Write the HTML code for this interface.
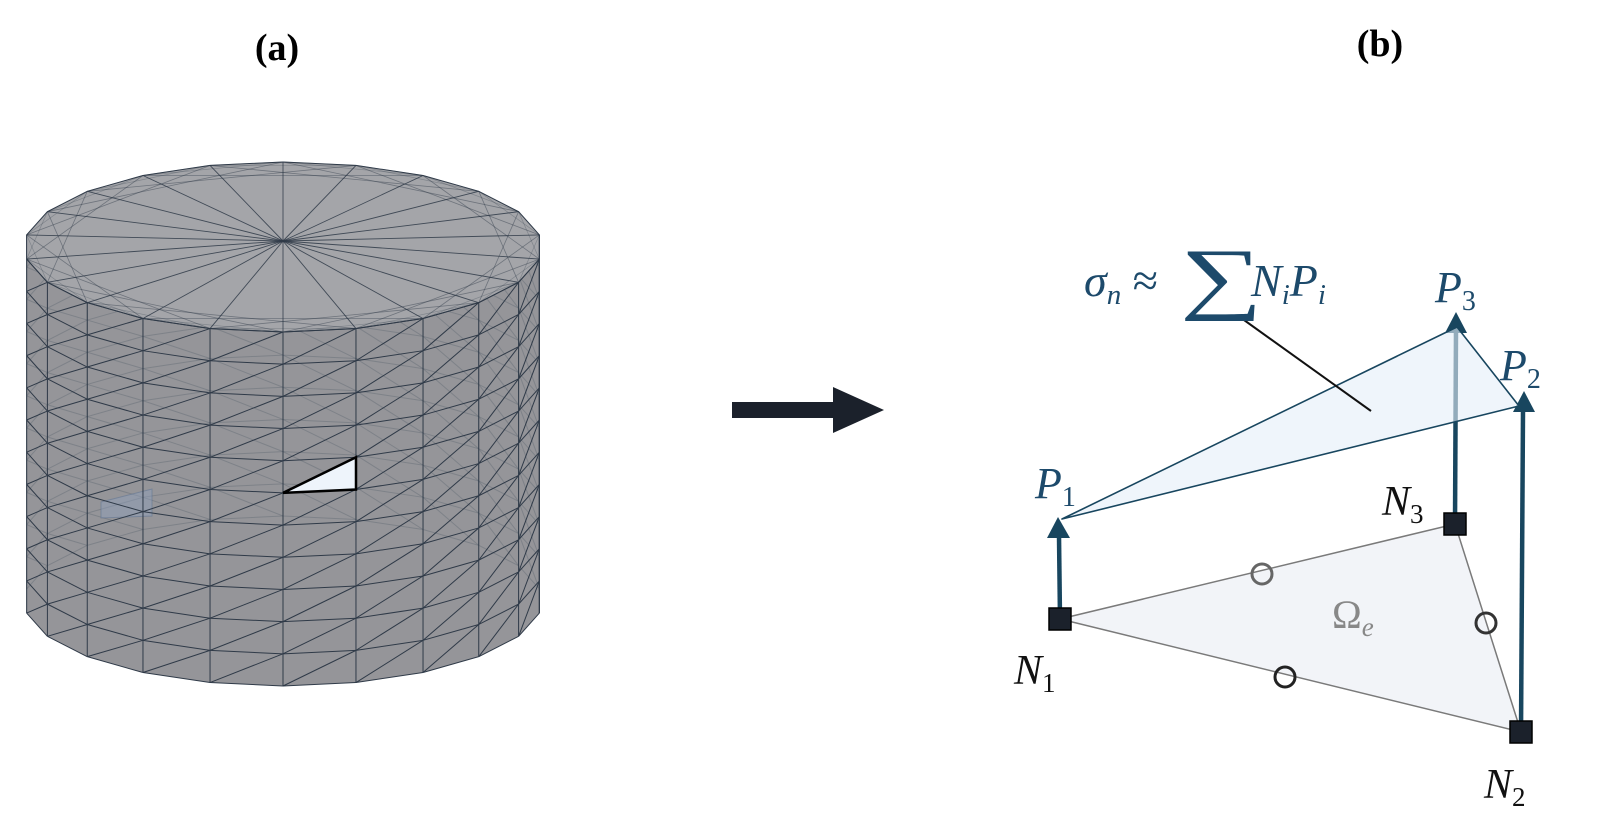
<!DOCTYPE html>
<html><head><meta charset="utf-8"><style>
html,body{margin:0;padding:0;background:#fff;}
svg{display:block}
.m{font-family:"Liberation Serif",serif;font-style:italic}
</style></head><body>
<svg id="s" width="1600" height="831" viewBox="0 0 1600 831" xmlns="http://www.w3.org/2000/svg">
<text x="277" y="60" font-family="Liberation Serif,serif" font-weight="bold" font-size="38" text-anchor="middle">(a)</text>
<text x="1380" y="56" font-family="Liberation Serif,serif" font-weight="bold" font-size="38" text-anchor="middle">(b)</text>
<g id="cyl"></g>
<rect x="732" y="402" width="105" height="16" fill="#1b212b"/>
<polygon points="833,387 884,410 833,433" fill="#1b212b"/>
<polygon points="1060,619 1521,732 1455,524" fill="#f2f4f8" stroke="#7a7a7a" stroke-width="1.5"/>
<g fill="none" stroke-width="3">
<circle cx="1262" cy="574" r="10" stroke="#666"/>
<circle cx="1285" cy="677" r="10" stroke="#222"/>
<circle cx="1486" cy="623" r="10" stroke="#333"/>
</g>
<g stroke="#18465f" stroke-width="4.5">
<line x1="1060" y1="619" x2="1059" y2="536"/>
<line x1="1455" y1="524" x2="1456" y2="330"/>
<line x1="1521" y1="732" x2="1523" y2="410"/>
</g>
<g fill="#18465f">
<polygon points="1058,517 1047,538 1070,538"/>
<polygon points="1456,312 1445,333 1467,333"/>
<polygon points="1524,391 1513,412 1535,412"/>
</g>
<polygon points="1062,519 1457,327 1519,406" fill="#e4eef9" fill-opacity="0.6" stroke="#18465f" stroke-width="1.6" stroke-linejoin="round"/>
<line x1="1244" y1="320" x2="1371" y2="411" stroke="#111" stroke-width="2"/>
<g fill="#1b212b" stroke="#000" stroke-width="1.5">
<rect x="1049" y="608" width="22" height="22"/>
<rect x="1444" y="513" width="22" height="22"/>
<rect x="1510" y="721" width="22" height="22"/>
</g>
<g class="m" fill="#1d4a6b">
<text x="1084" y="296" font-size="46">σ<tspan font-size="29" dy="8">n</tspan><tspan font-style="normal" dy="-8"> ≈</tspan></text>
<text x="0" y="0" font-size="80" font-style="normal" transform="translate(1180,304) scale(1.45,1)">∑</text>
<text x="1251" y="296" font-size="46">N<tspan font-size="29" dy="8">i</tspan><tspan dy="-8">P</tspan><tspan font-size="29" dy="8">i</tspan></text>
<text x="1435" y="302" font-size="44">P<tspan font-size="28" dy="8" font-style="normal">3</tspan></text>
<text x="1500" y="380" font-size="44">P<tspan font-size="28" dy="8" font-style="normal">2</tspan></text>
<text x="1035" y="498" font-size="44">P<tspan font-size="28" dy="8" font-style="normal">1</tspan></text>
</g>
<g class="m" fill="#111">
<text x="1382" y="515" font-size="42">N<tspan font-size="27" dy="8" font-style="normal">3</tspan></text>
<text x="1014" y="684" font-size="42">N<tspan font-size="27" dy="8" font-style="normal">1</tspan></text>
<text x="1484" y="798" font-size="42">N<tspan font-size="27" dy="8" font-style="normal">2</tspan></text>
</g>
<text x="1332" y="628" font-family="Liberation Serif,serif" font-size="40" fill="#888">Ω<tspan class="m" font-size="27" dy="8">e</tspan></text>
</svg>
<script>
(function(){
var g=document.getElementById('cyl'),NS='http://www.w3.org/2000/svg';
var cx=283,rx=259,ryT=85,cyT=247,H=354,cyB=cyT+H,N=22,R=11;
function P(t,j){var s=Math.sin(t),c=Math.cos(t);var y=cyT+(cyB-cyT)*j/R;return [cx+rx*s,y+ryT*c];}
function el(n,a){var e=document.createElementNS(NS,n);for(var k in a)e.setAttribute(k,a[k]);g.appendChild(e);return e;}
function pts(a){return a.map(function(p){return p[0].toFixed(1)+','+p[1].toFixed(1)}).join(' ');}
var st=2*Math.PI/N;
for(var i=0;i<N;i++){var a=i*st,b=(i+1)*st;
 el('polygon',{points:pts([P(a,0),P(b,0),P(b,R),P(a,R)]),fill:'#959599'});}
var top=[];for(i=0;i<N;i++)top.push(P(i*st,0));
var back=[],front=[];
for(i=0;i<N;i++){var a=i*st,b=(i+1)*st;var fm=Math.cos((a+b)/2)>0;
 var arr=fm?front:back;
 for(var j=0;j<=R;j++){arr.push([P(a,j),P(b,j)]);}
 for(j=0;j<R;j++){arr.push([P(a,j+1),P(b,j)]);}
 (Math.cos(a)>0.0?front:back).push([P(a,0),P(a,R)]);
}
back.forEach(function(l){el('line',{x1:l[0][0],y1:l[0][1],x2:l[1][0],y2:l[1][1],stroke:'#4a5562','stroke-opacity':'0.3','stroke-width':'1'});});
el('polygon',{points:pts(top),fill:'#a4a5a9'});
var ctr=[cx,cyT-6];
for(i=0;i<N;i++){
 el('line',{x1:ctr[0],y1:ctr[1],x2:top[i][0],y2:top[i][1],stroke:'#2f3a48','stroke-width':'0.9','stroke-opacity':'0.85'});
 var p2=top[(i+4)%N];el('line',{x1:top[i][0],y1:top[i][1],x2:p2[0],y2:p2[1],stroke:'#2f3a48','stroke-width':'0.8','stroke-opacity':'0.45'});
 var p3=top[(i+2)%N];el('line',{x1:top[i][0],y1:top[i][1],x2:p3[0],y2:p3[1],stroke:'#2f3a48','stroke-width':'0.7','stroke-opacity':'0.3'});
}
el('polygon',{points:pts(top),fill:'none',stroke:'#2f3a48','stroke-width':'1'});
el('polygon',{points:'101,502 152,489 152,516 101,518',fill:'#8ea0bd','fill-opacity':'0.45',stroke:'#5a6f8f','stroke-opacity':'0.5'});
front.forEach(function(l){el('line',{x1:l[0][0],y1:l[0][1],x2:l[1][0],y2:l[1][1],stroke:'#2f3a48','stroke-width':'1'});});
var A=P(0,5),B=P(st,5),C=P(st,4);
el('polygon',{points:pts([A,B,C]),fill:'#eef4fb',stroke:'#000','stroke-width':'2.5'});
})();
</script>
</body></html>
